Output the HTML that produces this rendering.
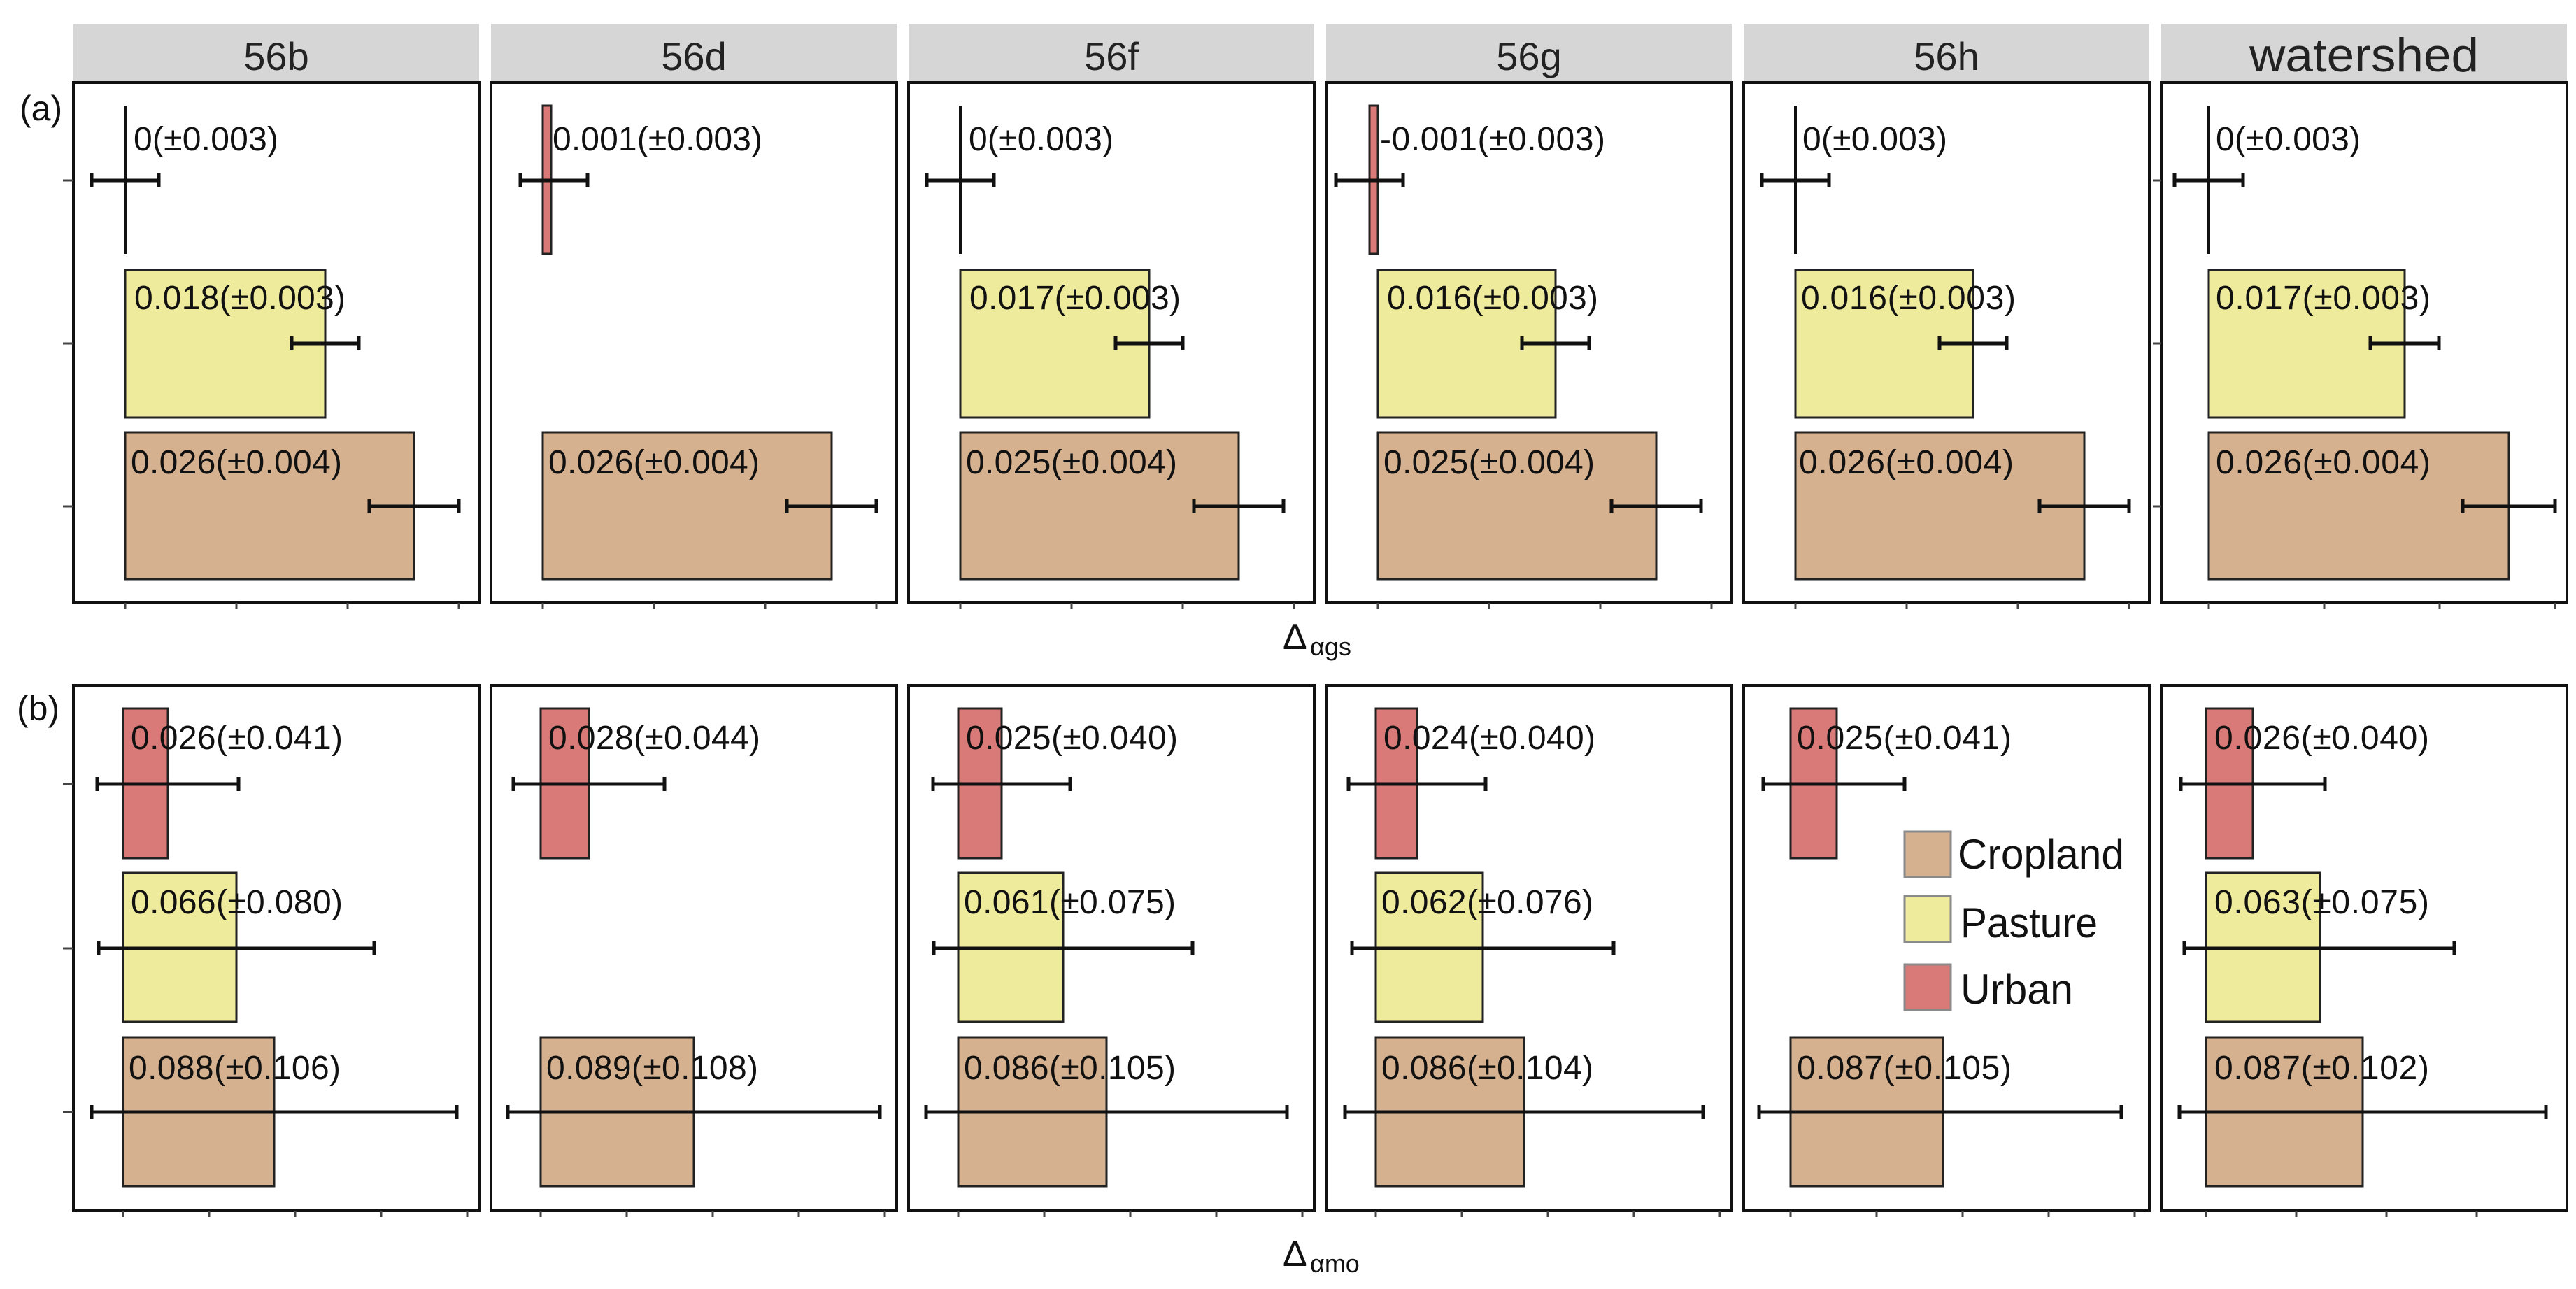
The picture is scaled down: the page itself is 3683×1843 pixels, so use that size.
<!DOCTYPE html>
<html><head><meta charset="utf-8"><style>
html,body{margin:0;padding:0;background:#fff;}
svg{display:block;}
text{font-family:"Liberation Sans",sans-serif;fill:#111;}
.h{font-size:56px;fill:#222;text-anchor:middle;}
.l{font-size:48px;}
.g{font-size:60px;}
</style></head><body>
<svg width="3683" height="1843" viewBox="0 0 3683 1843" xmlns="http://www.w3.org/2000/svg">
<rect width="3683" height="1843" fill="#fff"/>
<!-- headers -->
<g fill="#d6d6d6">
<rect x="105" y="34" width="580" height="84"/><rect x="702" y="34" width="580" height="84"/><rect x="1299" y="34" width="580" height="84"/><rect x="1896" y="34" width="580" height="84"/><rect x="2493" y="34" width="580" height="84"/><rect x="3090" y="34" width="580" height="84"/>
</g>
<text class="h" x="395" y="100">56b</text><text class="h" x="992" y="100">56d</text><text class="h" x="1589" y="100">56f</text><text class="h" x="2186" y="100">56g</text><text class="h" x="2783" y="100">56h</text><text class="h" x="3380" y="102" style="font-size:68px" textLength="328" lengthAdjust="spacingAndGlyphs">watershed</text>
<text x="28" y="172" style="font-size:50px">(a)</text>
<text x="24" y="1030" style="font-size:50px">(b)</text>

<!-- bars (a) -->
<g stroke="#222" stroke-width="3">
<rect x="179" y="386" width="286" height="211" fill="#eeeb9d"/>
<rect x="179" y="618" width="413" height="210" fill="#d5b18f"/>
<rect x="776" y="618" width="413" height="210" fill="#d5b18f"/>
<rect x="776" y="151" width="12" height="212" fill="#d97a78"/>
<rect x="1373" y="386" width="270" height="211" fill="#eeeb9d"/>
<rect x="1373" y="618" width="398" height="210" fill="#d5b18f"/>
<rect x="1970" y="386" width="254" height="211" fill="#eeeb9d"/>
<rect x="1970" y="618" width="398" height="210" fill="#d5b18f"/>
<rect x="1958" y="151" width="12" height="212" fill="#d97a78"/>
<rect x="2567" y="386" width="254" height="211" fill="#eeeb9d"/>
<rect x="2567" y="618" width="413" height="210" fill="#d5b18f"/>
<rect x="3158" y="386" width="280" height="211" fill="#eeeb9d"/>
<rect x="3158" y="618" width="429" height="210" fill="#d5b18f"/>
</g>
<g stroke="#111" stroke-width="4">
<line x1="179" y1="151" x2="179" y2="363"/><line x1="1373" y1="151" x2="1373" y2="363"/><line x1="2567" y1="151" x2="2567" y2="363"/><line x1="3158" y1="151" x2="3158" y2="363"/>
</g>
<!-- error bars (a) -->
<g stroke="#111" stroke-width="5" fill="none">
<path d="M131 258H227M131 248V268M227 248V268"/>
<path d="M417 491H513M417 481V501M513 481V501"/>
<path d="M528 724H656M528 714V734M656 714V734"/>
<path d="M744 258H840M744 248V268M840 248V268"/>
<path d="M1125 724H1253M1125 714V734M1253 714V734"/>
<path d="M1325 258H1421M1325 248V268M1421 248V268"/>
<path d="M1595 491H1691M1595 481V501M1691 481V501"/>
<path d="M1707 724H1835M1707 714V734M1835 714V734"/>
<path d="M1910 258H2006M1910 248V268M2006 248V268"/>
<path d="M2176 491H2272M2176 481V501M2272 481V501"/>
<path d="M2304 724H2432M2304 714V734M2432 714V734"/>
<path d="M2519 258H2615M2519 248V268M2615 248V268"/>
<path d="M2773 491H2869M2773 481V501M2869 481V501"/>
<path d="M2916 724H3044M2916 714V734M3044 714V734"/>
<path d="M3109 258H3207M3109 248V268M3207 248V268"/>
<path d="M3389 491H3487M3389 481V501M3487 481V501"/>
<path d="M3521 724H3653M3521 714V734M3653 714V734"/>
</g>
<!-- labels (a) -->
<text class="l" x="191" y="215" textLength="207">0(±0.003)</text>
<text class="l" x="192" y="442" textLength="302">0.018(±0.003)</text>
<text class="l" x="187" y="677" textLength="302">0.026(±0.004)</text>
<text class="l" x="790" y="215" textLength="300">0.001(±0.003)</text>
<text class="l" x="784" y="677" textLength="302">0.026(±0.004)</text>
<text class="l" x="1385" y="215" textLength="207">0(±0.003)</text>
<text class="l" x="1386" y="442" textLength="302">0.017(±0.003)</text>
<text class="l" x="1381" y="677" textLength="302">0.025(±0.004)</text>
<text class="l" x="1973" y="215" textLength="322">-0.001(±0.003)</text>
<text class="l" x="1983" y="442" textLength="302">0.016(±0.003)</text>
<text class="l" x="1978" y="677" textLength="302">0.025(±0.004)</text>
<text class="l" x="2577" y="215" textLength="207">0(±0.003)</text>
<text class="l" x="2575" y="442" textLength="307">0.016(±0.003)</text>
<text class="l" x="2572" y="677" textLength="307">0.026(±0.004)</text>
<text class="l" x="3168" y="215" textLength="207">0(±0.003)</text>
<text class="l" x="3168" y="442" textLength="307">0.017(±0.003)</text>
<text class="l" x="3168" y="677" textLength="307">0.026(±0.004)</text>

<!-- bars (b) -->
<g stroke="#222" stroke-width="3">
<rect x="176" y="1013" width="64" height="214" fill="#d97a78"/>
<rect x="176" y="1248" width="162" height="213" fill="#eeeb9d"/>
<rect x="176" y="1483" width="216" height="213" fill="#d5b18f"/>
<rect x="773" y="1013" width="69" height="214" fill="#d97a78"/>
<rect x="773" y="1483" width="219" height="213" fill="#d5b18f"/>
<rect x="1370" y="1013" width="62" height="214" fill="#d97a78"/>
<rect x="1370" y="1248" width="150" height="213" fill="#eeeb9d"/>
<rect x="1370" y="1483" width="212" height="213" fill="#d5b18f"/>
<rect x="1967" y="1013" width="59" height="214" fill="#d97a78"/>
<rect x="1967" y="1248" width="153" height="213" fill="#eeeb9d"/>
<rect x="1967" y="1483" width="212" height="213" fill="#d5b18f"/>
<rect x="2560" y="1013" width="66" height="214" fill="#d97a78"/>
<rect x="2560" y="1483" width="218" height="213" fill="#d5b18f"/>
<rect x="3154" y="1013" width="67" height="214" fill="#d97a78"/>
<rect x="3154" y="1248" width="163" height="213" fill="#eeeb9d"/>
<rect x="3154" y="1483" width="224" height="213" fill="#d5b18f"/>
</g>
<!-- legend -->
<g stroke="#8a8a8a" stroke-width="3">
<rect x="2723" y="1189" width="66" height="65" fill="#d5b18f"/>
<rect x="2723" y="1281" width="66" height="66" fill="#eeeb9d"/>
<rect x="2723" y="1379" width="66" height="65" fill="#d97a78"/>
</g>
<text class="g" x="2799" y="1242" textLength="238" lengthAdjust="spacingAndGlyphs">Cropland</text>
<text class="g" x="2803" y="1340" textLength="196" lengthAdjust="spacingAndGlyphs">Pasture</text>
<text class="g" x="2803" y="1435" textLength="161" lengthAdjust="spacingAndGlyphs">Urban</text>
<!-- error bars (b) -->
<g stroke="#111" stroke-width="5" fill="none">
<path d="M139 1121H341M139 1111V1131M341 1111V1131"/>
<path d="M141 1356H535M141 1346V1366M535 1346V1366"/>
<path d="M131 1590H653M131 1580V1600M653 1580V1600"/>
<path d="M734 1121H950M734 1111V1131M950 1111V1131"/>
<path d="M726 1590H1258M726 1580V1600M1258 1580V1600"/>
<path d="M1334 1121H1530M1334 1111V1131M1530 1111V1131"/>
<path d="M1335 1356H1705M1335 1346V1366M1705 1346V1366"/>
<path d="M1324 1590H1840M1324 1580V1600M1840 1580V1600"/>
<path d="M1928 1121H2124M1928 1111V1131M2124 1111V1131"/>
<path d="M1933 1356H2307M1933 1346V1366M2307 1346V1366"/>
<path d="M1923 1590H2435M1923 1580V1600M2435 1580V1600"/>
<path d="M2521 1121H2723M2521 1111V1131M2723 1111V1131"/>
<path d="M2515 1590H3033M2515 1580V1600M3033 1580V1600"/>
<path d="M3118 1121H3324M3118 1111V1131M3324 1111V1131"/>
<path d="M3123 1356H3509M3123 1346V1366M3509 1346V1366"/>
<path d="M3116 1590H3640M3116 1580V1600M3640 1580V1600"/>
</g>
<!-- labels (b) -->
<text class="l" x="187" y="1071" textLength="303">0.026(±0.041)</text>
<text class="l" x="187" y="1306" textLength="303">0.066(±0.080)</text>
<text class="l" x="184" y="1543" textLength="303">0.088(±0.106)</text>
<text class="l" x="784" y="1071" textLength="303">0.028(±0.044)</text>
<text class="l" x="781" y="1543" textLength="303">0.089(±0.108)</text>
<text class="l" x="1381" y="1071" textLength="303">0.025(±0.040)</text>
<text class="l" x="1378" y="1306" textLength="303">0.061(±0.075)</text>
<text class="l" x="1378" y="1543" textLength="303">0.086(±0.105)</text>
<text class="l" x="1978" y="1071" textLength="303">0.024(±0.040)</text>
<text class="l" x="1975" y="1306" textLength="303">0.062(±0.076)</text>
<text class="l" x="1975" y="1543" textLength="303">0.086(±0.104)</text>
<text class="l" x="2569" y="1071" textLength="307">0.025(±0.041)</text>
<text class="l" x="2569" y="1543" textLength="307">0.087(±0.105)</text>
<text class="l" x="3166" y="1071" textLength="307">0.026(±0.040)</text>
<text class="l" x="3166" y="1306" textLength="307">0.063(±0.075)</text>
<text class="l" x="3166" y="1543" textLength="307">0.087(±0.102)</text>

<!-- panel frames -->
<g stroke="#111" stroke-width="4" fill="none">
<rect x="105" y="118" width="580" height="744"/><rect x="702" y="118" width="580" height="744"/><rect x="1299" y="118" width="580" height="744"/><rect x="1896" y="118" width="580" height="744"/><rect x="2493" y="118" width="580" height="744"/><rect x="3090" y="118" width="580" height="744"/>
<rect x="105" y="980" width="580" height="751"/><rect x="702" y="980" width="580" height="751"/><rect x="1299" y="980" width="580" height="751"/><rect x="1896" y="980" width="580" height="751"/><rect x="2493" y="980" width="580" height="751"/><rect x="3090" y="980" width="580" height="751"/>
</g>
<!-- ticks -->
<g stroke="#444" stroke-width="3">
<path d="M90 258H105M90 491H105M90 724H105M90 1121H105M90 1356H105M90 1590H105"/>
<path d="M3078 258H3090M3078 491H3090M3078 724H3090"/>
<path d="M179 862v9M338 862v9M497 862v9M656 862v9"/>
<path d="M776 862v9M935 862v9M1094 862v9M1253 862v9"/>
<path d="M1373 862v9M1532 862v9M1691 862v9M1850 862v9"/>
<path d="M1970 862v9M2129 862v9M2288 862v9M2447 862v9"/>
<path d="M2567 862v9M2726 862v9M2885 862v9M3044 862v9"/>
<path d="M3158 862v9M3323 862v9M3488 862v9M3653 862v9"/>
<path d="M176 1731v9M299 1731v9M422 1731v9M545 1731v9M668 1731v9"/>
<path d="M773 1731v9M896 1731v9M1019 1731v9M1142 1731v9M1265 1731v9"/>
<path d="M1370 1731v9M1493 1731v9M1616 1731v9M1739 1731v9M1862 1731v9"/>
<path d="M1967 1731v9M2090 1731v9M2213 1731v9M2336 1731v9M2459 1731v9"/>
<path d="M2560 1731v9M2683 1731v9M2806 1731v9M2929 1731v9M3052 1731v9"/>
<path d="M3154 1731v9M3283 1731v9M3412 1731v9M3541 1731v9"/>
</g>
<!-- axis titles -->
<text x="1834" y="928" style="font-size:52px">Δ</text>
<text x="1873" y="937" style="font-size:36px">αgs</text>
<text x="1834" y="1810" style="font-size:52px">Δ</text>
<text x="1873" y="1819" style="font-size:36px">αmo</text>
</svg>
</body></html>
